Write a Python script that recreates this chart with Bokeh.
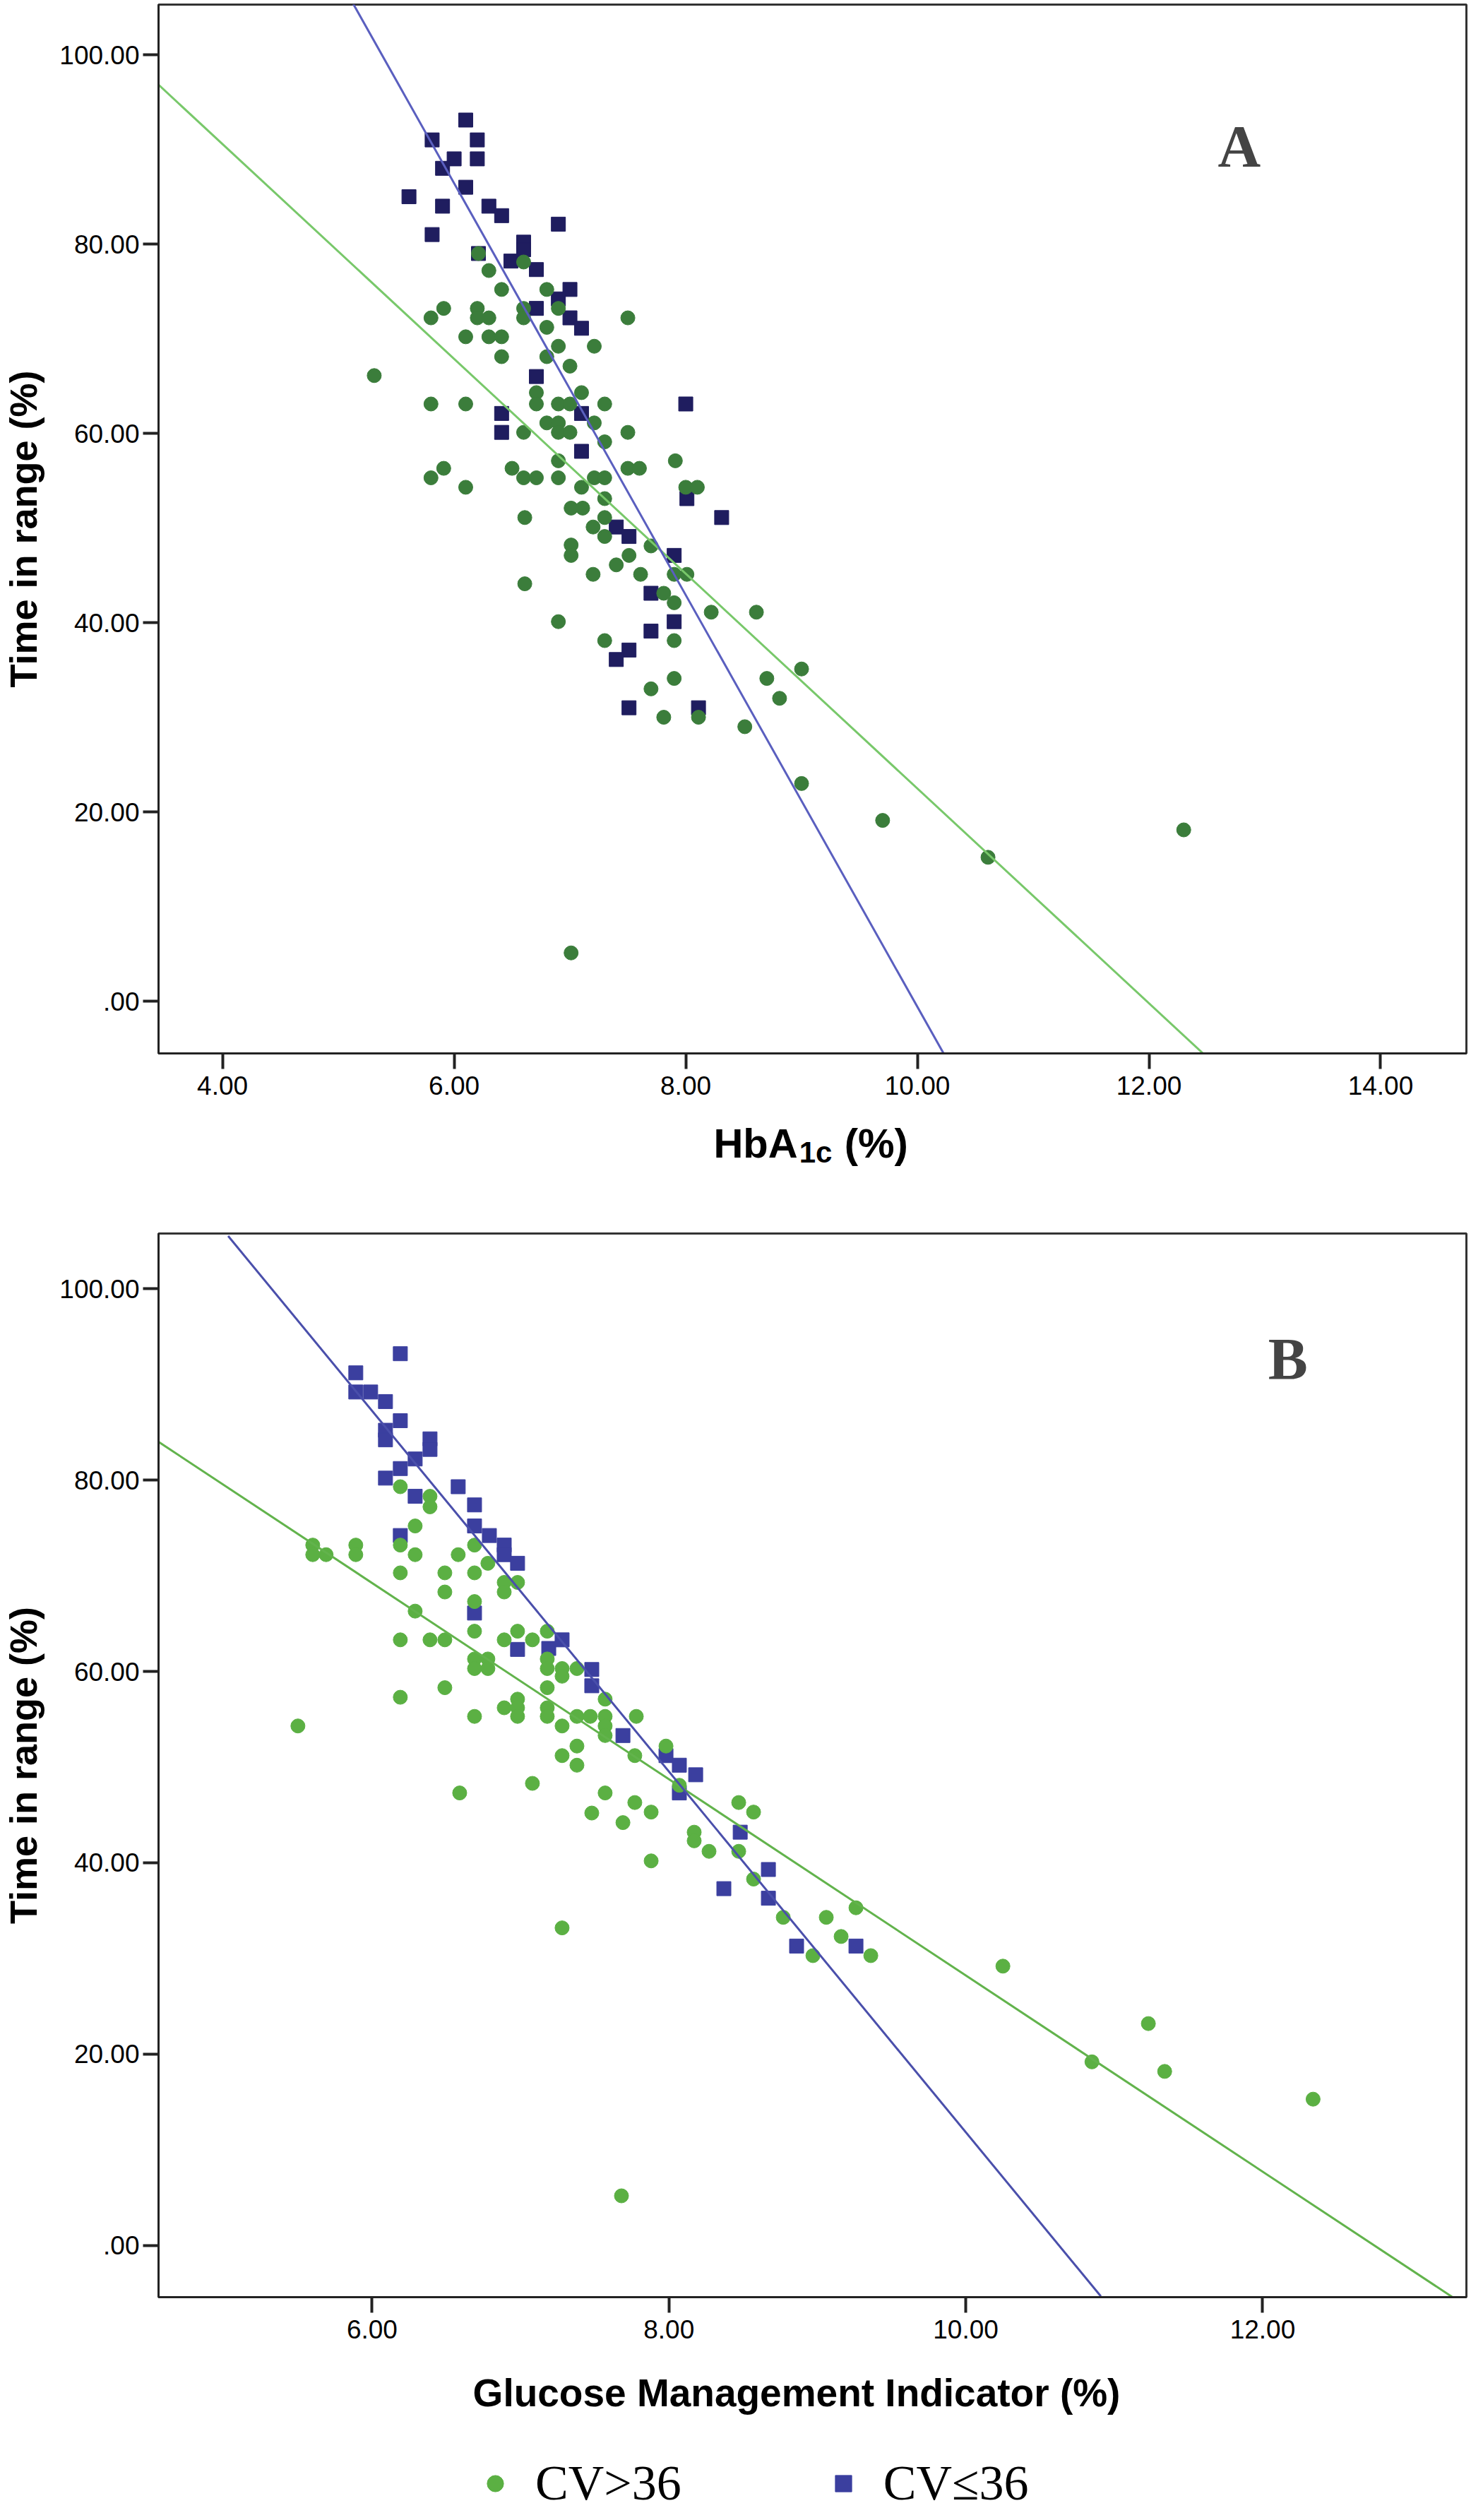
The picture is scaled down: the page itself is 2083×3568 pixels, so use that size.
from bokeh.plotting import figure
from bokeh.models import Range1d, FixedTicker, Label, Legend
from bokeh.layouts import column
from bokeh.core.properties import value
from bokeh.embed import file_html
from bokeh.resources import INLINE

# ---- Panel A: HbA1c vs time in range ----
a_high_x = [6.21, 6.60, 6.30, 6.41, 6.80, 5.91, 5.80, 6.20, 6.20, 6.30, 6.60, 6.60, 6.90, 7.50,
            6.80, 6.10, 6.30, 6.41, 6.90, 7.21, 6.41, 6.80, 7.00, 5.31, 7.10, 6.71, 5.80, 6.10,
            6.71, 6.90, 7.00, 7.30, 6.80, 6.90, 7.21, 6.90, 7.00, 6.60, 7.50, 7.30, 6.90, 7.91,
            5.91, 5.80, 6.50, 6.60, 6.71, 6.90, 7.21, 7.30, 7.50, 7.60, 6.10, 7.10, 8.00, 8.10,
            7.30, 6.61, 7.01, 7.11, 7.30, 7.20, 7.30, 7.01, 7.01, 7.51, 7.40, 7.20, 7.61, 7.70,
            7.90, 8.01, 6.61, 7.81, 7.90, 8.22, 8.61, 6.90, 7.30, 7.90, 9.00, 8.70, 7.90, 7.70,
            8.81, 7.81, 8.11, 8.51, 9.00, 7.01, 9.70, 10.61, 12.30]
a_high_y = [79.0, 78.1, 77.2, 75.2, 75.2, 73.2, 72.2, 73.2, 72.2, 72.2, 73.2, 72.2, 73.2, 72.2,
            71.2, 70.2, 70.2, 70.2, 69.2, 69.2, 68.1, 68.1, 67.1, 66.1, 64.3, 64.3, 63.1, 63.1,
            63.1, 63.1, 63.1, 63.1, 61.1, 61.1, 61.1, 60.1, 60.1, 60.1, 60.1, 59.1, 57.1, 57.1,
            56.3, 55.3, 56.3, 55.3, 55.3, 55.3, 55.3, 55.3, 56.3, 56.3, 54.3, 54.3, 54.3, 54.3,
            53.1, 51.1, 52.1, 52.1, 51.1, 50.1, 49.1, 48.2, 47.1, 47.1, 46.1, 45.1, 45.1, 48.1,
            45.1, 45.1, 44.1, 43.1, 42.1, 41.1, 41.1, 40.1, 38.1, 38.1, 35.1, 34.1, 34.1, 33.0,
            32.0, 30.0, 30.0, 29.0, 23.0, 5.1, 19.1, 15.2, 18.1]

a_low_x = [6.10, 5.81, 6.20, 6.00, 6.20, 5.90, 6.10, 5.61, 5.90, 6.30, 6.41, 6.90, 5.81, 6.60,
           6.60, 6.49, 6.71, 6.21, 7.00, 6.90, 6.71, 7.00, 7.10, 6.71, 6.41, 6.41, 7.10, 8.00,
           7.10, 8.01, 8.31, 7.40, 7.51, 7.90, 7.70, 7.90, 7.70, 7.51, 7.40, 7.51, 8.11]
a_low_y = [93.1, 91.0, 91.0, 89.0, 89.0, 88.0, 86.0, 85.0, 84.0, 84.0, 83.0, 82.1, 81.0, 80.2,
           79.4, 78.2, 77.3, 79.0, 75.2, 74.2, 73.2, 72.2, 71.1, 66.0, 62.1, 60.1, 62.1, 63.1,
           58.1, 53.1, 51.1, 50.1, 49.1, 47.1, 43.1, 40.1, 39.1, 37.1, 36.1, 31.0, 31.0]

# fit lines (two points each)
a_fit_high_x = [3.45, 12.50]
a_fit_high_y = [96.8, -5.9]
a_fit_low_x = [5.10, 10.23]
a_fit_low_y = [106.0, -5.6]

# ---- Panel B: GMI vs time in range ----
b_high_x = [6.19, 6.39, 6.39, 6.29, 5.60, 5.60, 5.69, 5.89, 5.89, 6.19, 6.29, 6.58, 6.69, 6.78,
            6.19, 6.49, 6.69, 6.89, 6.98, 6.89, 6.49, 6.69, 6.29, 6.69, 6.98, 7.18, 6.19, 6.39,
            6.49, 6.89, 7.08, 6.69, 6.78, 6.69, 6.78, 7.18, 7.18, 7.28, 7.38, 7.28, 6.49, 7.18,
            6.19, 5.50, 6.69, 6.89, 6.98, 6.98, 6.98, 7.18, 7.18, 7.28, 7.38, 7.47, 7.57, 7.57,
            7.57, 7.57, 7.38, 7.28, 7.38, 7.08, 6.59, 7.57, 7.48, 7.69, 7.28, 7.78, 7.98, 7.77,
            8.07, 7.77, 7.88, 8.47, 8.57, 8.17, 8.17, 8.27, 8.47, 7.88, 8.57, 8.77, 9.06, 9.26,
            9.16, 8.97, 9.36, 7.68, 10.25, 10.85, 11.23, 11.34, 12.34]
b_high_y = [79.3, 78.3, 77.2, 75.2, 73.2, 72.2, 72.2, 73.2, 72.2, 73.2, 72.2, 72.2, 73.2, 71.3,
            70.3, 70.3, 70.3, 69.3, 69.3, 68.3, 68.3, 67.3, 66.3, 64.2, 64.2, 64.2, 63.3, 63.3,
            63.3, 63.3, 63.3, 61.3, 61.3, 60.3, 60.3, 61.3, 60.3, 60.3, 60.3, 59.5, 58.3, 58.3,
            57.3, 54.3, 55.3, 56.2, 57.1, 56.2, 55.3, 56.2, 55.3, 54.3, 55.3, 55.3, 57.1, 55.3,
            54.3, 53.3, 52.2, 51.2, 50.2, 48.3, 47.3, 47.3, 45.2, 44.2, 33.2, 55.3, 52.2, 51.2,
            48.1, 46.3, 45.3, 46.3, 45.3, 43.2, 42.3, 41.2, 41.2, 40.2, 38.3, 34.3, 34.3, 35.3,
            32.3, 30.3, 30.3, 5.2, 29.2, 19.2, 23.2, 18.2, 15.3]

b_low_x = [6.19, 5.89, 5.89, 5.99, 6.09, 6.19, 6.09, 6.09, 6.39, 6.39, 6.29, 6.19, 6.09, 6.29,
           6.58, 6.69, 6.69, 6.79, 6.89, 6.89, 6.98, 6.19, 6.69, 7.28, 6.98, 7.19, 7.48, 7.48,
           7.69, 7.98, 8.07, 8.18, 8.07, 8.48, 8.67, 8.37, 8.67, 8.86, 9.26]
b_low_y = [93.2, 91.2, 89.2, 89.2, 88.2, 86.2, 85.2, 84.2, 84.3, 83.2, 82.2, 81.2, 80.2, 78.3,
           79.3, 77.4, 75.2, 74.2, 73.2, 72.2, 71.3, 74.2, 66.1, 63.3, 62.3, 62.4, 60.2, 58.5,
           53.3, 51.2, 50.2, 49.2, 47.3, 43.2, 39.3, 37.3, 36.3, 31.3, 31.3]

b_fit_high_x = [4.56, 13.30]
b_fit_high_y = [84.0, -5.6]
b_fit_low_x = [5.03, 10.91]
b_fit_low_y = [105.5, -5.3]

# ---- ticks ----
y_ticks = [0, 20, 40, 60, 80, 100]
y_tick_labels = [".00", "20.00", "40.00", "60.00", "80.00", "100.00"]
a_x_ticks = [4, 6, 8, 10, 12, 14]
a_x_tick_labels = ["4.00", "6.00", "8.00", "10.00", "12.00", "14.00"]
b_x_ticks = [6, 8, 10, 12]
b_x_tick_labels = ["6.00", "8.00", "10.00", "12.00"]
group_labels = ["CV>36", "CV≤36"]

SANS = "Liberation Sans"
SERIF = "Liberation Serif"
W = 2080


def style(p, xticks, xlabels):
    p.xgrid.visible = False
    p.ygrid.visible = False
    p.outline_line_color = "#333333"
    p.outline_line_width = 3
    p.background_fill_color = "white"
    p.border_fill_color = "white"
    p.xaxis.ticker = FixedTicker(ticks=xticks)
    p.xaxis.major_label_overrides = dict(zip([float(t) for t in xticks], xlabels))
    p.yaxis.ticker = FixedTicker(ticks=y_ticks)
    p.yaxis.major_label_overrides = dict(zip([float(t) for t in y_ticks], y_tick_labels))
    for ax in (p.xaxis, p.yaxis):
        ax.axis_line_color = "#222222"
        ax.axis_line_width = 3
        ax.major_tick_line_color = "#222222"
        ax.major_tick_line_width = 4
        ax.major_tick_out = 22
        ax.major_tick_in = 0
        ax.minor_tick_line_color = None
        ax.major_label_text_font = SANS
        ax.major_label_text_font_size = "37px"
        ax.major_label_text_color = "black"
        ax.axis_label_text_font = SANS
        ax.axis_label_text_font_style = "bold"
        ax.axis_label_text_color = "black"
    p.xaxis.major_label_standoff = 10
    p.yaxis.major_label_standoff = 5
    p.yaxis.axis_label = "Time in range (%)"
    p.yaxis.axis_label_text_font_size = "54px"
    p.yaxis.axis_label_standoff = 18


def blank(p):
    p.outline_line_color = None
    p.xgrid.visible = False
    p.ygrid.visible = False
    p.background_fill_color = "white"
    p.border_fill_color = "white"


def strip(x_range, height, left):
    s = figure(width=W, height=height, x_range=x_range, y_range=Range1d(0, height),
               toolbar_location=None, output_backend="svg",
               x_axis_location=None, y_axis_location=None,
               min_border_left=left, min_border_right=4, min_border_top=0,
               min_border_bottom=0)
    blank(s)
    return s


# ---------- Figure A ----------
pa = figure(width=W, height=1575, x_range=Range1d(3.4475, 14.741),
            y_range=Range1d(-5.52, 105.3), toolbar_location=None,
            output_backend="svg", min_border_left=216, min_border_right=4,
            min_border_top=6, min_border_bottom=84)
style(pa, a_x_ticks, a_x_tick_labels)

pa.scatter(a_low_x, a_low_y, marker="square", size=20, color="#1f1d5f")
pa.scatter(a_high_x, a_high_y, marker="circle", size=20, color="#3b7d3b")
pa.line(a_fit_high_x, a_fit_high_y, line_color="#78c86a", line_width=3)
pa.line(a_fit_low_x, a_fit_low_y, line_color="#5a5fbf", line_width=3)

pa.add_layout(Label(x=12.78, y=90.3, text="A", text_font=SERIF, text_font_style="bold",
                    text_font_size="84px", text_align="center", text_baseline="middle"))

# x axis title of panel A, with subscript: HbA1c (%)
pa_title = strip(pa.x_range, 165, 216)
pa_title.text(x=[8.967], y=[122], text=["HbA"], text_font=value(SANS),
              text_font_style="bold", text_font_size="58px", text_align="right",
              text_baseline="alphabetic", text_color="black")
pa_title.text(x=[8.98], y=[109], text=["1c"], text_font=value(SANS),
              text_font_style="bold", text_font_size="42px", text_align="left",
              text_baseline="alphabetic", text_color="black")
pa_title.text(x=[9.37], y=[122], text=["(%)"], text_font=value(SANS),
              text_font_style="bold", text_font_size="58px", text_align="left",
              text_baseline="alphabetic", text_color="black")

# ---------- Figure B ----------
pb = figure(width=W, height=1600, x_range=Range1d(4.561, 13.373),
            y_range=Range1d(-5.39, 105.76), toolbar_location=None,
            output_backend="svg", min_border_left=221, min_border_right=4,
            min_border_top=6, min_border_bottom=88)
style(pb, b_x_ticks, b_x_tick_labels)

pb.scatter(b_low_x, b_low_y, marker="square", size=20, color="#3b3f9f")
pb.scatter(b_high_x, b_high_y, marker="circle", size=20, color="#5bb043")
pb.line(b_fit_high_x, b_fit_high_y, line_color="#62b34c", line_width=3)
pb.line(b_fit_low_x, b_fit_low_y, line_color="#4a4fab", line_width=3)

pb.add_layout(Label(x=12.17, y=92.6, text="B", text_font=SERIF, text_font_style="bold",
                    text_font_size="84px", text_align="center", text_baseline="middle"))

pb_title = strip(pb.x_range, 100, 221)
pb_title.text(x=[8.86], y=[53], text=["Glucose Management Indicator (%)"],
              text_font=value(SANS), text_font_style="bold", text_font_size="55px",
              text_align="center", text_baseline="alphabetic", text_color="black")

# ---------- legend strip ----------
pl = figure(width=W, height=124, x_range=Range1d(0, 1), y_range=Range1d(0, 1),
            toolbar_location=None, output_backend="svg",
            x_axis_location=None, y_axis_location=None, min_border=0)
blank(pl)
# same series again, all outside this strip's ranges: only their legend swatches show
leg_hi = pl.scatter(b_high_x, b_high_y, marker="circle", size=20, color="#5bb043")
leg_lo = pl.scatter(b_low_x, b_low_y, marker="square", size=20, color="#3b3f9f")
legend = Legend(items=[(group_labels[0], [leg_hi]), (group_labels[1], [leg_lo])],
                orientation="horizontal", location=(448, 8),
                label_text_font=SERIF, label_text_font_size="70px",
                label_text_color="black", label_standoff=28, spacing=200,
                glyph_width=58, glyph_height=58, padding=0, margin=0,
                border_line_color=None, background_fill_alpha=0)
pl.add_layout(legend)

layout = column(pa, pa_title, pb, pb_title, pl)
open("out.html", "w").write(file_html(layout, INLINE))
